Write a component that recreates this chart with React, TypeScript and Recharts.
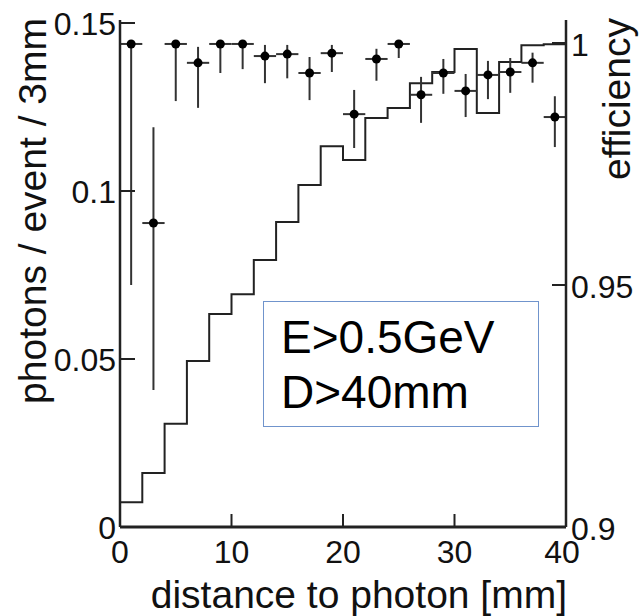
import React from 'react';
import {
  ComposedChart,
  Line,
  Scatter,
  ErrorBar,
  XAxis,
  YAxis,
} from 'recharts';

// histogram: photons / event / 3mm, one value per 2 mm bin
const binStarts = [0, 2, 4, 6, 8, 10, 12, 14, 16, 18, 20, 22, 24, 26, 28, 30, 32, 34, 36, 38];
const binEnd = 40;
const histValues = [
  0.0074, 0.0161, 0.0307, 0.0494, 0.0634, 0.0693, 0.0795, 0.0908, 0.1018, 0.1133,
  0.1092, 0.1217, 0.1247, 0.1321, 0.1354, 0.1423, 0.1232, 0.1384, 0.1434, 0.1437,
];

// efficiency points at bin centres, asymmetric errors
const binCenters = [1, 3, 5, 7, 9, 11, 13, 15, 17, 19, 21, 23, 25, 27, 29, 31, 33, 35, 37, 39];
const binHalfWidth = 1;
const effValues = [
  0.9998, 0.9628, 0.9998, 0.9959, 0.9998, 0.9998, 0.9973, 0.9977, 0.9938, 0.9979,
  0.9853, 0.9967, 0.9998, 0.9893, 0.9938, 0.9901, 0.9934, 0.994, 0.9959, 0.9847,
];
const effErrLow = [
  0.0498, 0.0345, 0.0118, 0.0093, 0.006, 0.0052, 0.0056, 0.005, 0.0056, 0.0039,
  0.007, 0.0045, 0.0029, 0.0058, 0.0043, 0.0054, 0.005, 0.0043, 0.0041, 0.0062,
];
const effErrHigh = [
  0.0002, 0.0198, 0.0002, 0.0033, 0.0002, 0.0002, 0.0023, 0.0019, 0.0033, 0.0017,
  0.005, 0.0021, 0.0002, 0.0037, 0.0029, 0.0035, 0.0029, 0.0029, 0.0021, 0.0043,
];

const xTicks = [0, 10, 20, 30, 40];
const leftTicks = [0, 0.05, 0.1, 0.15];
const rightTicks = [0.9, 0.95, 1];

const xTitle = 'distance to photon [mm]';
const leftTitle = 'photons / event / 3mm';
const rightTitle = 'efficiency';
const boxLines = ['E>0.5GeV', 'D>40mm'];

const histData = [
  ...binStarts.map((x, i) => ({ x, hist: histValues[i] })),
  { x: binEnd, hist: histValues[histValues.length - 1] },
];

const effData = binCenters.map((x, i) => ({
  x,
  eff: effValues[i],
  effErr: [effErrLow[i], effErrHigh[i]],
  xErr: binHalfWidth,
}));

const FONT = '"Liberation Sans", Arial, sans-serif';
const TICK_FONT = 32;
const TITLE_FONT = 39;

function BottomTick(props: any) {
  const { x, y, payload } = props;
  const dx = payload.value === 40 ? -4 : 0;
  return (
    <g>
      <line x1={x} x2={x} y1={y} y2={y - 13} stroke="#222" strokeWidth={2} />
      <text x={x + dx} y={y + 36} textAnchor="middle" fontSize={TICK_FONT} fontFamily={FONT} fill="#111">
        {payload.value}
      </text>
    </g>
  );
}

function LeftTick(props: any) {
  const { x, y, payload } = props;
  return (
    <g>
      <line x1={x} x2={x + 15} y1={y} y2={y} stroke="#222" strokeWidth={2} />
      <text x={x - 4} y={y + 12} textAnchor="end" fontSize={TICK_FONT} fontFamily={FONT} fill="#111">
        {payload.value}
      </text>
    </g>
  );
}

function RightTick(props: any) {
  const { x, y, payload } = props;
  return (
    <g>
      <line x1={x} x2={x - 14} y1={y} y2={y} stroke="#222" strokeWidth={2} />
      <text x={x + 5} y={y + 13} textAnchor="start" fontSize={TICK_FONT} fontFamily={FONT} fill="#111">
        {payload.value}
      </text>
    </g>
  );
}

function Dot(props: any) {
  return <circle cx={props.cx} cy={props.cy} r={4.5} fill="#000" />;
}

export default function App() {
  return (
    <div style={{ position: 'absolute', left: 0, top: 0, width: 642, height: 616, background: '#fff' }}>
      <ComposedChart width={642} height={616} margin={{ top: 20, right: 0, bottom: 0, left: 0 }}>
        <XAxis
          dataKey="x"
          type="number"
          domain={[0, 40]}
          ticks={xTicks}
          interval={0}
          height={89}
          tickSize={0}
          tickMargin={0}
          tickLine={false}
          axisLine={{ stroke: '#222', strokeWidth: 3 }}
          tick={<BottomTick />}
          label={{
            content: () => (
              <text x={567} y={608} textAnchor="end" fontSize={TITLE_FONT} fontFamily={FONT} fill="#111">
                {xTitle}
              </text>
            ),
          }}
        />
        <XAxis
          xAxisId="top"
          dataKey="x"
          type="number"
          orientation="top"
          domain={[0, 40]}
          height={0}
          tick={false}
          tickLine={false}
          axisLine={{ stroke: '#222', strokeWidth: 2 }}
        />
        <YAxis
          yAxisId="left"
          type="number"
          domain={[0, 0.1509]}
          ticks={leftTicks}
          interval={0}
          width={120}
          tickSize={0}
          tickMargin={0}
          tickLine={false}
          axisLine={{ stroke: '#222', strokeWidth: 2.5 }}
          tick={<LeftTick />}
          label={{
            content: () => (
              <text
                x={46}
                y={18}
                transform="rotate(-90 46 18)"
                textAnchor="end"
                fontSize={TITLE_FONT}
                fontFamily={FONT}
                fill="#111"
              >
                {leftTitle}
              </text>
            ),
          }}
        />
        <YAxis
          yAxisId="right"
          orientation="right"
          type="number"
          domain={[0.9, 1.00475]}
          ticks={rightTicks}
          interval={0}
          width={76}
          tickSize={0}
          tickMargin={0}
          tickLine={false}
          axisLine={{ stroke: '#222', strokeWidth: 2.5 }}
          tick={<RightTick />}
          label={{
            content: () => (
              <text
                x={630}
                y={18}
                transform="rotate(-90 630 18)"
                textAnchor="end"
                fontSize={TITLE_FONT}
                fontFamily={FONT}
                fill="#111"
              >
                {rightTitle}
              </text>
            ),
          }}
        />
        <Line
          yAxisId="left"
          data={histData}
          dataKey="hist"
          type="stepAfter"
          stroke="#222"
          strokeWidth={2}
          dot={false}
          activeDot={false}
          isAnimationActive={false}
        />
        <Scatter
          yAxisId="right"
          data={effData}
          dataKey="eff"
          shape={<Dot />}
          isAnimationActive={false}
        >
          <ErrorBar dataKey="effErr" direction="y" width={0} stroke="#333" strokeWidth={2} />
          <ErrorBar dataKey="xErr" direction="x" width={0} stroke="#333" strokeWidth={2} />
        </Scatter>
      </ComposedChart>
      <div
        style={{
          position: 'absolute',
          left: 263,
          top: 301,
          width: 276,
          height: 126,
          border: '1px solid #7094cc',
          boxSizing: 'border-box',
          paddingTop: 8,
          paddingLeft: 17,
          fontFamily: FONT,
          fontSize: 46,
          lineHeight: '55px',
          color: '#000',
        }}
      >
        {boxLines.map((t) => (
          <div key={t}>{t}</div>
        ))}
      </div>
    </div>
  );
}
